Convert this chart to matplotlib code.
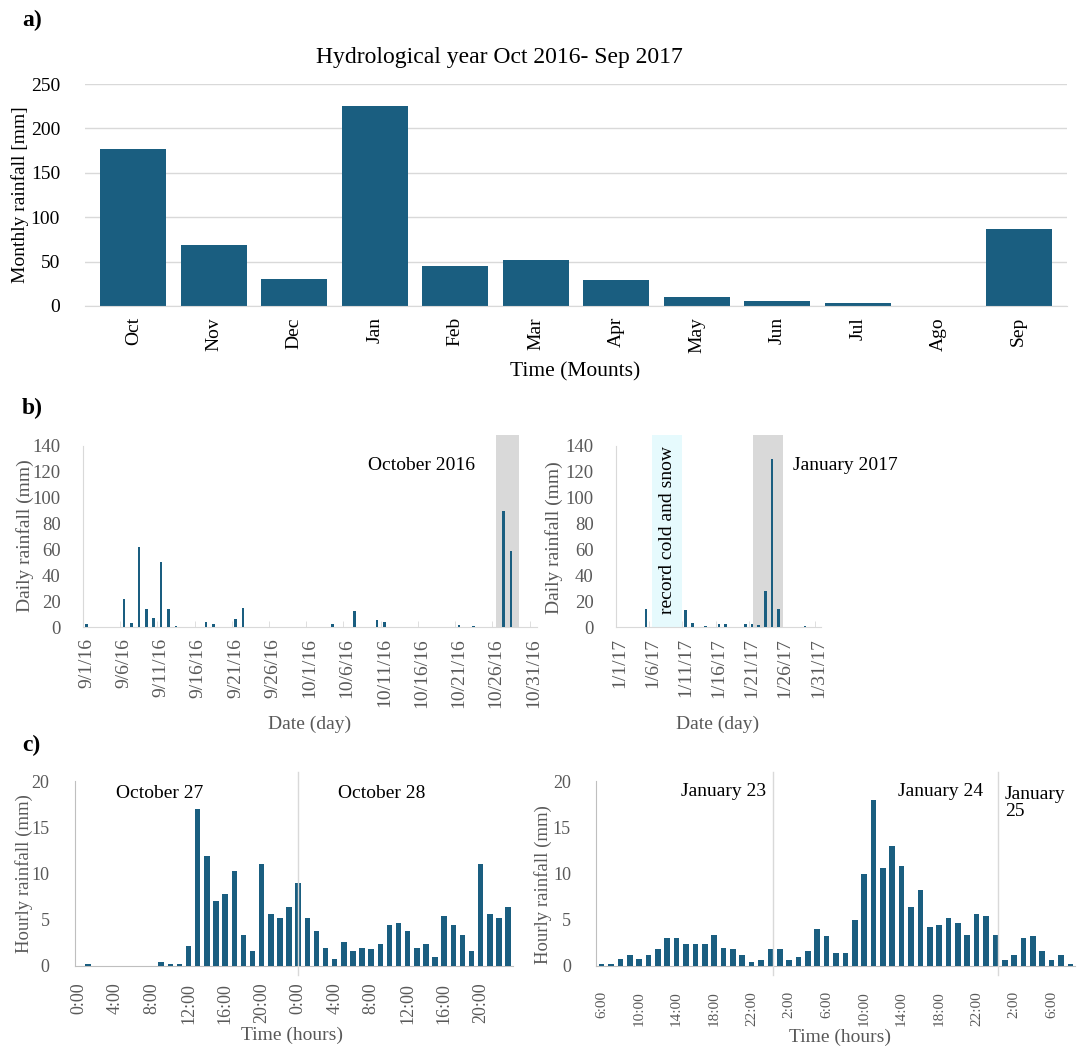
import matplotlib.pyplot as plt
import pandas as pd

plt.rcParams['font.family'] = ['Liberation Serif', 'DejaVu Serif']

BAR = '#1a5e80'
GREY = '#595959'
LINE = '#d9d9d9'

# a) monthly rainfall, hydrological year 2016-17
months = ['Oct', 'Nov', 'Dec', 'Jan', 'Feb', 'Mar', 'Apr', 'May', 'Jun', 'Jul', 'Ago', 'Sep']
monthly_mm = [177, 68.5, 30, 225, 45, 51.5, 29.5, 10, 5.5, 3.5, 0, 87]

# b) daily rainfall (days without rain left out)
sep_oct_range = ('2016-09-01', '2016-10-31')
sep_oct_days = ['2016-09-01', '2016-09-06', '2016-09-07', '2016-09-08', '2016-09-09',
                '2016-09-10', '2016-09-11', '2016-09-12', '2016-09-13', '2016-09-17',
                '2016-09-18', '2016-09-21', '2016-09-22', '2016-10-04', '2016-10-07',
                '2016-10-10', '2016-10-11', '2016-10-21', '2016-10-23', '2016-10-27',
                '2016-10-28']
sep_oct_mm = [2, 22, 3, 62, 14, 7, 50, 14, 1, 3.5, 2.5, 6.5, 15, 2.5, 12, 5.5, 3.5,
              1.5, 1, 90, 59]

jan_range = ('2017-01-01', '2017-01-31')
jan_days = ['2017-01-05', '2017-01-11', '2017-01-12', '2017-01-14', '2017-01-16',
            '2017-01-17', '2017-01-20', '2017-01-21', '2017-01-22', '2017-01-23',
            '2017-01-24', '2017-01-25', '2017-01-29']
jan_mm = [14, 13, 3, 0.5, 2.5, 2, 2, 2.5, 1.5, 28, 130, 14, 1]

# c) hourly rainfall of the two storms
oct_storm_start = '2016-10-27 00:00'
oct_storm_mm = [0, 0.2, 0, 0, 0, 0, 0, 0, 0, 0.4, 0.2, 0.2, 2.2, 17.0, 11.9, 7.0,
                7.8, 10.3, 3.4, 1.6, 11.0, 5.6, 5.2, 6.4, 9.0, 5.2, 3.8, 2.0, 0.8, 2.6,
                1.6, 2.0, 1.8, 2.4, 4.4, 4.6, 3.8, 2.0, 2.4, 1.0, 5.4, 4.4, 3.4, 1.6,
                11.0, 5.6, 5.2, 6.4]
jan_storm_start = '2017-01-23 06:00'
jan_storm_mm = [0.2, 0.2, 0.8, 1.2, 0.8, 1.2, 1.8, 3.0, 3.0, 2.4, 2.4, 2.4, 3.4, 2.0,
                1.8, 1.2, 0.4, 0.6, 1.8, 1.8, 0.6, 1.0, 1.6, 4.0, 3.2, 1.4, 1.4, 5.0,
                10.0, 18.0, 10.6, 13.0, 10.8, 6.4, 8.2, 4.2, 4.4, 5.2, 4.6, 3.4, 5.6,
                5.4, 3.4, 0.6, 1.2, 3.0, 3.2, 1.6, 0.6, 1.2, 0.2]

W, H = 1083, 1048
fig = plt.figure(figsize=(W / 100, H / 100), dpi=100)


def box(left, top, right, bottom):
    return [left / W, 1 - bottom / H, (right - left) / W, (bottom - top) / H]


def label(x, y, s, **kw):
    fig.text(x / W, 1 - y / H, s, ha='center', va='center', **kw)


# ---- a) monthly bars ----
ax = fig.add_axes(box(85, 84, 1067, 306))
ax.bar(range(len(months)), monthly_mm, width=0.82, color=BAR, zorder=2)
ax.set_xlim(-0.6, len(months) - 0.4)
ax.set_ylim(0, 250)
ax.set_yticks(range(0, 251, 50))
ax.set_xticks(range(len(months)))
ax.set_xticklabels(months, rotation=90)
ax.yaxis.grid(True, color=LINE, lw=1)
ax.set_axisbelow(True)
for s in ['top', 'right', 'left']:
    ax.spines[s].set_visible(False)
ax.spines['bottom'].set_color(LINE)
ax.tick_params(length=0, labelsize=14)
ax.tick_params(axis='y', pad=18)
ax.tick_params(axis='x', pad=8)
label(499, 57, 'Hydrological year Oct 2016- Sep 2017', fontsize=17)
label(20, 195, 'Monthly rainfall [mm]', fontsize=14, rotation=90)
label(575, 372, 'Time (Mounts)', fontsize=15.5)


# ---- b) daily bars ----
def daily(rect, span, days, mm, width):
    start, end = pd.Timestamp(span[0]), pd.Timestamp(span[1])
    x = [(pd.Timestamp(d) - start).days for d in days]
    n = (end - start).days
    ax = fig.add_axes(rect)
    ax.bar(x, mm, width=width, color=BAR, zorder=3)
    ax.set_ylim(0, 140)
    ax.set_yticks(range(0, 141, 20))
    ticks = pd.date_range(start, end, freq='5D')
    ax.set_xticks([(t - start).days for t in ticks])
    ax.set_xticklabels([f'{t.month}/{t.day}/{t:%y}' for t in ticks], rotation=90)
    ax.set_xticks([(t - start).days - 0.5 for t in ticks[1:]], minor=True)
    for s in ['top', 'right']:
        ax.spines[s].set_visible(False)
    for s in ['left', 'bottom']:
        ax.spines[s].set_color(LINE)
    ax.tick_params(which='major', length=0, labelcolor=GREY)
    ax.tick_params(axis='x', which='minor', direction='in', length=4, color=LINE)
    ax.tick_params(axis='x', pad=8, labelsize=14)
    ax.tick_params(axis='y', pad=16, labelsize=13.5)
    return ax, n


axb1, n1 = daily(box(83, 446, 537, 627), sep_oct_range, sep_oct_days, sep_oct_mm, 0.35)
axb1.set_xlim(-0.5, n1 + 0.5)
axb1.axvspan(55.0, 58.1, ymax=148.5 / 140, color=LINE, lw=0, zorder=1, clip_on=False)
label(421, 465, 'October 2016', fontsize=14)
label(25, 536, 'Daily rainfall (mm)', fontsize=14, rotation=90, color=GREY)
label(310, 724, 'Date (day)', fontsize=14, color=GREY)

axb2, n2 = daily(box(616, 446, 821, 627), jan_range, jan_days, jan_mm, 0.4)
axb2.set_xlim(-0.5, n2 + 0.4)
axb2.axvspan(20.2, 24.6, ymax=148.5 / 140, color=LINE, lw=0, zorder=1, clip_on=False)
axb2.axvspan(5.0, 9.4, ymax=148.5 / 140, color='#e6fafd', lw=0, zorder=1, clip_on=False)
axb2.text(7.3, 75, 'record cold and snow', rotation=90, ha='center', va='center',
          fontsize=14, zorder=4)
label(845, 465, 'January 2017', fontsize=14)
label(554, 538, 'Daily rainfall (mm)', fontsize=14, rotation=90, color=GREY)
label(718, 724, 'Date (day)', fontsize=14, color=GREY)


# ---- c) hourly bars ----
def hourly(rect, start, mm, xmin, xmax, xsize, xpad):
    hours = pd.date_range(start, periods=len(mm), freq='h')
    ax = fig.add_axes(rect)
    ax.bar(range(len(mm)), mm, width=0.6, color=BAR, zorder=3)
    ax.set_xlim(xmin, xmax)
    ax.set_ylim(0, 20)
    ax.set_yticks(range(0, 21, 5))
    pos = list(range(0, len(mm), 4))
    ax.set_xticks(pos)
    ax.set_xticklabels([f'{hours[i].hour}:00' for i in pos], rotation=90)
    for s in ['top', 'right']:
        ax.spines[s].set_visible(False)
    for s in ['left', 'bottom']:
        ax.spines[s].set_color('#bfbfbf')
    ax.tick_params(length=0, labelcolor=GREY)
    ax.tick_params(axis='x', pad=xpad, labelsize=xsize)
    ax.tick_params(axis='y', pad=18, labelsize=13)
    return ax


axc1 = hourly(box(74.5, 781, 512.7, 966), oct_storm_start, oct_storm_mm, -0.5, 47.5, 13, 12)
axc1.axvline(24, ymin=-0.05, ymax=1.05, color=LINE, lw=1, zorder=4, clip_on=False)
label(160, 793, 'October 27', fontsize=14)
label(382, 793, 'October 28', fontsize=14)
label(24, 874, 'Hourly rainfall (mm)', fontsize=13.5, rotation=90, color=GREY)
label(292, 1035, 'Time (hours)', fontsize=14, color=GREY)

axc2 = hourly(box(596, 781, 1075, 966), jan_storm_start, jan_storm_mm, -0.6, 50.5, 11, 18)
for xv in (18.25, 42.25):
    axc2.axvline(xv, ymin=-0.05, ymax=1.05, color=LINE, lw=1, zorder=4, clip_on=False)
fig.text(766 / W, 1 - 792 / H, 'January 23', ha='right', va='center', fontsize=14)
fig.text(983 / W, 1 - 792 / H, 'January 24', ha='right', va='center', fontsize=14)
fig.text(1005 / W, 1 - 803 / H, 'January\n25', ha='left', va='center', fontsize=14,
         linespacing=1.0)
label(543, 885, 'Hourly rainfall (mm)', fontsize=13.5, rotation=90, color=GREY)
label(840, 1037, 'Time (hours)', fontsize=14, color=GREY)

for txt, y in (('a)', 20), ('b)', 408), ('c)', 745)):
    fig.text(22 / W, 1 - y / H, txt, ha='left', va='center', fontsize=17,
             fontweight='bold')

fig.savefig('out.png', dpi=100)
